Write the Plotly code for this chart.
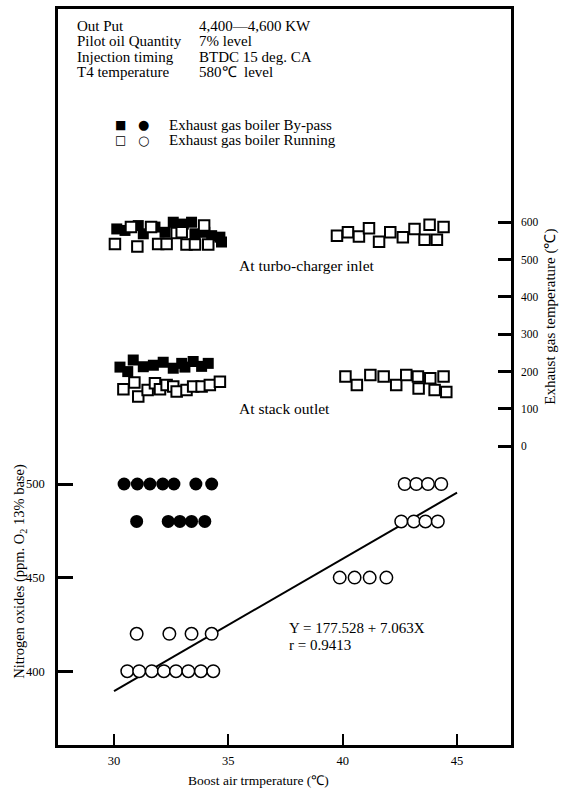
import plotly.graph_objects as go

# ---------------- data ----------------
# NOx (left axis), boost air temperature on x
nox_bypass_x = [30.44, 31.02, 31.57, 32.13, 32.62, 33.58, 34.27, 30.99, 32.37, 32.88, 33.39, 33.97]
nox_bypass_y = [500, 500, 500, 500, 500, 500, 500, 480, 480, 480, 480, 480]
nox_run_x = [30.58, 31.10, 31.65, 32.18, 32.71, 33.25, 33.80, 34.34,
             30.99, 32.42, 33.39, 34.27,
             39.87, 40.52, 41.18, 41.91,
             42.56, 43.11, 43.62, 44.16,
             42.71, 43.22, 43.73, 44.31]
nox_run_y = [400, 400, 400, 400, 400, 400, 400, 400,
             420, 420, 420, 420,
             450, 450, 450, 450,
             480, 480, 480, 480,
             500, 500, 500, 500]

# Exhaust gas temperature (right axis)
turbo_bypass_x = [30.12, 30.48, 31.06, 31.28, 31.79, 32.23, 32.59, 33.03, 33.39, 33.54, 33.97, 34.27, 34.63, 34.70]
turbo_bypass_y = [582, 578, 591, 569, 587, 573, 600, 595, 600, 569, 573, 564, 560, 547]
turbo_run_x = [30.04, 30.74, 31.02, 31.62, 31.93, 32.30, 32.74, 32.96, 33.17, 33.54, 33.94, 34.12,
               39.75, 40.23, 40.71, 41.15, 41.59, 42.08, 42.63, 43.14, 43.58, 43.80, 44.12, 44.41]
turbo_run_y = [542, 587, 535, 587, 542, 542, 571, 573, 540, 540, 591, 540,
               564, 573, 562, 584, 548, 573, 560, 582, 553, 593, 553, 587]

stack_bypass_x = [30.26, 30.84, 31.28, 31.72, 32.15, 32.59, 32.96, 33.46, 33.83, 34.12, 30.60, 33.10]
stack_bypass_y = [212, 231, 213, 217, 225, 209, 222, 227, 214, 222, 200, 212]
stack_run_x = [30.41, 30.89, 31.06, 31.47, 31.79, 32.01, 32.30, 32.59, 32.74, 33.17, 33.46, 33.83, 34.19, 34.63,
               40.12, 40.62, 41.21, 41.79, 42.34, 42.78, 43.29, 43.32, 43.83, 44.02, 44.41, 44.53]
stack_run_y = [153, 171, 133, 151, 169, 153, 164, 160, 147, 151, 160, 160, 164, 173,
               187, 164, 191, 187, 164, 191, 187, 155, 182, 151, 187, 145]

# regression line Y = 177.528 + 7.063X
reg_a, reg_b = 177.528, 7.063
reg_x = [30.0, 45.0]
reg_y = [reg_a + reg_b * v for v in reg_x]

x_ticks = [30, 35, 40, 45]
nox_ticks = [400, 450, 500]
exh_ticks = [0, 100, 200, 300, 400, 500, 600]

info_labels = ["Out Put", "Pilot oil Quantity", "Injection timing", "T4 temperature"]
info_values = ["4,400\u20144,600 KW", "7% level", "BTDC 15 deg. CA", "580\u2103  level"]

# ---------------- layout helpers ----------------
W, H = 564, 792
PL, PR, PT, PB = 58, 511, 6, 745
FONT = "Liberation Serif"


def px(x):
    return (x - PL) / (PR - PL)


def py(y):
    return (PB - y) / (PB - PT)


fig = go.Figure()

# filled (by-pass) squares
fig.add_trace(go.Scatter(x=turbo_bypass_x, y=turbo_bypass_y, yaxis="y2", mode="markers",
                         marker=dict(symbol="square", size=11, color="black"), showlegend=False))
fig.add_trace(go.Scatter(x=stack_bypass_x, y=stack_bypass_y, yaxis="y2", mode="markers",
                         marker=dict(symbol="square", size=11, color="black"), showlegend=False))
# open (running) squares
sq_open = dict(symbol="square", size=10.5, color="white", line=dict(color="black", width=2))
fig.add_trace(go.Scatter(x=turbo_run_x, y=turbo_run_y, yaxis="y2", mode="markers",
                         marker=sq_open, showlegend=False))
fig.add_trace(go.Scatter(x=stack_run_x, y=stack_run_y, yaxis="y2", mode="markers",
                         marker=sq_open, showlegend=False))

# regression line
fig.add_trace(go.Scatter(x=reg_x, y=reg_y, mode="lines",
                         line=dict(color="black", width=2), showlegend=False))
# NOx circles
fig.add_trace(go.Scatter(x=nox_bypass_x, y=nox_bypass_y, mode="markers",
                         marker=dict(symbol="circle", size=13, color="black"), showlegend=False))
fig.add_trace(go.Scatter(x=nox_run_x, y=nox_run_y, mode="markers",
                         marker=dict(symbol="circle", size=12.5, color="white",
                                     line=dict(color="black", width=1.5)), showlegend=False))

ann = []
tf = dict(family=FONT, size=15, color="black")
lf = dict(family=FONT, size=15, color="black")
rows_y = [23, 38.5, 54, 69.5]
for lab, val, yy in zip(info_labels, info_values, rows_y):
    ann.append(dict(x=px(75), y=py(yy), xref="paper", yref="paper", text=lab, showarrow=False,
                    xanchor="left", yanchor="middle", font=tf))
    ann.append(dict(x=px(197), y=py(yy), xref="paper", yref="paper", text=val, showarrow=False,
                    xanchor="left", yanchor="middle", font=tf))

# legend (manual)
sym = dict(family="DejaVu Sans", size=12, color="black")
sym_c = dict(family="DejaVu Sans", size=13, color="black")
leg_y = [122, 138]
ann.append(dict(x=px(113), y=py(leg_y[0]), xref="paper", yref="paper", text="\u25A0", showarrow=False,
                xanchor="left", yanchor="middle", font=sym))
ann.append(dict(x=px(136), y=py(leg_y[0]), xref="paper", yref="paper", text="\u25CF", showarrow=False,
                xanchor="left", yanchor="middle", font=sym_c))
ann.append(dict(x=px(113), y=py(leg_y[1]), xref="paper", yref="paper", text="\u25A1", showarrow=False,
                xanchor="left", yanchor="middle", font=sym))
ann.append(dict(x=px(136), y=py(leg_y[1]), xref="paper", yref="paper", text="\u25CB", showarrow=False,
                xanchor="left", yanchor="middle", font=sym_c))
ann.append(dict(x=px(167), y=py(leg_y[0]), xref="paper", yref="paper", text="Exhaust gas boiler By-pass",
                showarrow=False, xanchor="left", yanchor="middle", font=lf))
ann.append(dict(x=px(167), y=py(leg_y[1]), xref="paper", yref="paper", text="Exhaust gas boiler Running",
                showarrow=False, xanchor="left", yanchor="middle", font=lf))

# group labels
gf = dict(family=FONT, size=15.5, color="black")
ann.append(dict(x=px(237), y=py(264), xref="paper", yref="paper", text="At turbo-charger inlet",
                showarrow=False, xanchor="left", yanchor="middle", font=gf))
ann.append(dict(x=px(237), y=py(407), xref="paper", yref="paper", text="At stack outlet",
                showarrow=False, xanchor="left", yanchor="middle", font=gf))

# regression text
rf = dict(family=FONT, size=15, color="black")
ann.append(dict(x=px(287), y=py(628), xref="paper", yref="paper", text="Y = 177.528 + 7.063X",
                showarrow=False, xanchor="left", yanchor="middle", font=rf))
ann.append(dict(x=px(287), y=py(645), xref="paper", yref="paper", text="r = 0.9413",
                showarrow=False, xanchor="left", yanchor="middle", font=rf))

# axis titles
ann.append(dict(x=px(20), y=py(571), xref="paper", yref="paper",
                text="Nitrogen oxides (ppm. O<sub>2</sub> 13% base)", textangle=-90,
                showarrow=False, xanchor="center", yanchor="middle",
                font=dict(family=FONT, size=14.5, color="black")))
ann.append(dict(x=px(551), y=py(315), xref="paper", yref="paper",
                text="Exhaust gas temperature (\u2103)", textangle=-90,
                showarrow=False, xanchor="center", yanchor="middle",
                font=dict(family=FONT, size=15, color="black")))
ann.append(dict(x=px(258), y=py(781), xref="paper", yref="paper",
                text="Boost air trmperature (\u2103)",
                showarrow=False, xanchor="center", yanchor="middle",
                font=dict(family=FONT, size=13.5, color="black")))

fig.update_layout(
    width=W, height=H,
    margin=dict(l=PL, r=W - PR, t=PT, b=H - PB, pad=0),
    paper_bgcolor="white", plot_bgcolor="white",
    showlegend=False,
    font=dict(family=FONT, size=12, color="black"),
    xaxis=dict(range=[27.55, 47.36], tickvals=x_ticks, ticktext=[str(v) for v in x_ticks],
               ticks="inside", ticklen=11, tickwidth=2, tickcolor="black",
               showline=True, linewidth=2.5, linecolor="black", mirror=True,
               showgrid=False, zeroline=False, tickfont=dict(family=FONT, size=12.5),
               ticklabelstandoff=2),
    yaxis=dict(range=[360.6, 753.7], tickvals=nox_ticks, ticktext=[str(v) for v in nox_ticks],
               ticks="inside", ticklen=15, tickwidth=2.5, tickcolor="black",
               showline=True, linewidth=2.5, linecolor="black", mirror=True,
               showgrid=False, zeroline=False, tickfont=dict(family=FONT, size=12.5),
               ticklabelstandoff=8),
    yaxis2=dict(range=[-800, 1171], overlaying="y", side="right",
                tickvals=exh_ticks, ticktext=[str(v) for v in exh_ticks],
                ticks="inside", ticklen=13, tickwidth=3, tickcolor="black",
                showline=True, linewidth=2.5, linecolor="black",
                showgrid=False, zeroline=False, tickfont=dict(family=FONT, size=11.5),
                ticklabelstandoff=5),
    annotations=ann,
)

fig.write_html("out.html")
